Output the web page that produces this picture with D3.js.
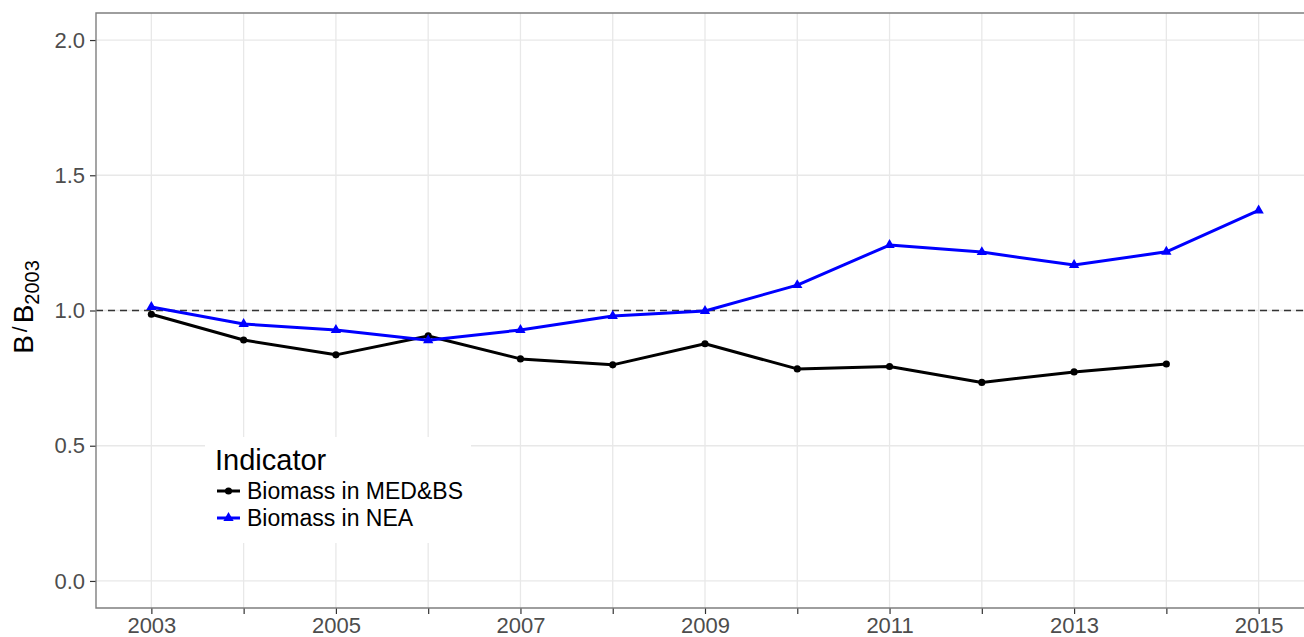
<!DOCTYPE html>
<html>
<head>
<meta charset="utf-8">
<script src="https://cdn.jsdelivr.net/npm/d3@7"></script>
<style>
  html, body { margin: 0; padding: 0; background: #fff; }
  svg { display: block; font-family: "Liberation Sans", Arial, sans-serif; }
</style>
</head>
<body>
<svg id="chart" width="1304" height="637"></svg>
<script>
// biomass ratio B/B2003 for two regions
var years = [2003, 2004, 2005, 2006, 2007, 2008, 2009, 2010, 2011, 2012, 2013, 2014, 2015];
var medbs = [0.986, 0.891, 0.836, 0.906, 0.821, 0.799, 0.877, 0.784, 0.793, 0.734, 0.773, 0.802, null];
var nea = [1.013, 0.950, 0.928, 0.890, 0.928, 0.980, 0.998, 1.094, 1.242, 1.216, 1.168, 1.217, 1.370];
var yTicks = [0, 0.5, 1, 1.5, 2];
var xLabels = [2003, 2005, 2007, 2009, 2011, 2013, 2015];
var seriesNames = ["Biomass in MED&BS", "Biomass in NEA"];

var svg = d3.select("#chart");
// ojo: "top" es window.top, por eso panelTop
var panelLeft = 96, panelTop = 13, panelBottom = 608, panelRight = 1314;
var x = d3.scaleLinear().domain([2002.4, 2015.6]).range([panelLeft, panelRight]);
var y = d3.scaleLinear().domain([-0.1, 2.1]).range([panelBottom, panelTop]);

// grid
var grid = svg.append("g");
grid.selectAll(".gx").data(years).enter().append("line")
  .attr("x1", function (d) { return x(d); }).attr("x2", function (d) { return x(d); })
  .attr("y1", panelTop).attr("y2", panelBottom)
  .attr("stroke", "#e8e8e8").attr("stroke-width", 1.3);
grid.selectAll(".gy").data(yTicks).enter().append("line")
  .attr("x1", panelLeft).attr("x2", panelRight)
  .attr("y1", function (d) { return y(d); }).attr("y2", function (d) { return y(d); })
  .attr("stroke", "#e8e8e8").attr("stroke-width", 1.3);

// reference line at 1
svg.append("line")
  .attr("x1", panelLeft).attr("x2", panelRight).attr("y1", y(1)).attr("y2", y(1))
  .attr("stroke", "#333").attr("stroke-width", 1.7).attr("stroke-dasharray", "7,5");

// axes
var yAxis = d3.axisLeft(y).tickValues(yTicks).tickFormat(d3.format(".1f")).tickSize(6).tickPadding(5);
var gy = svg.append("g").attr("transform", "translate(" + panelLeft + ",0)").call(yAxis);
var xAxis = d3.axisBottom(x).tickValues(years).tickSize(6).tickPadding(3)
  .tickFormat(function (d) { return xLabels.indexOf(d) >= 0 ? d : ""; });
var gx = svg.append("g").attr("transform", "translate(0," + panelBottom + ")").call(xAxis);
[gx, gy].forEach(function (g) {
  g.attr("font-size", null).attr("font-family", null);
  g.select(".domain").remove();
  g.selectAll(".tick line").attr("stroke", "#333").attr("stroke-width", 1.2);
  g.selectAll(".tick text").attr("fill", "#4d4d4d").style("font-size", "22px");
});

// panel border (left, top, bottom)
svg.append("path")
  .attr("d", "M" + panelRight + "," + panelTop + "H" + panelLeft + "V" + panelBottom + "H" + panelRight)
  .attr("fill", "none").attr("stroke", "#7f7f7f").attr("stroke-width", 1.4);

// lines and markers
var line = d3.line()
  .defined(function (d) { return d[1] != null; })
  .x(function (d) { return x(d[0]); })
  .y(function (d) { return y(d[1]); });
var series = [
  { vals: medbs, color: "#000", shape: d3.symbolCircle, size: 40 },
  { vals: nea, color: "#0000ff", shape: d3.symbolTriangle, size: 46 }
];
series.forEach(function (s) {
  var pts = years.map(function (yr, i) { return [yr, s.vals[i]]; });
  svg.append("path").datum(pts).attr("d", line)
    .attr("fill", "none").attr("stroke", s.color).attr("stroke-width", 3)
    .attr("stroke-linejoin", "round");
  svg.append("g").selectAll("path")
    .data(pts.filter(function (d) { return d[1] != null; }))
    .enter().append("path")
    .attr("d", d3.symbol().type(s.shape).size(s.size))
    .attr("transform", function (d) { return "translate(" + x(d[0]) + "," + y(d[1]) + ")"; })
    .attr("fill", s.color);
});

// legend
var lg = svg.append("g").attr("transform", "translate(205,437)");
lg.append("rect").attr("width", 266).attr("height", 106).attr("fill", "#fff");
lg.append("text").attr("x", 10).attr("y", 33).text("Indicator")
  .style("font-size", "29px").attr("fill", "#000");
seriesNames.forEach(function (n, i) {
  var yy = 54 + i * 27;
  var s = series[i];
  lg.append("line").attr("x1", 12).attr("x2", 35).attr("y1", yy).attr("y2", yy)
    .attr("stroke", s.color).attr("stroke-width", 3);
  lg.append("path").attr("d", d3.symbol().type(s.shape).size(s.size))
    .attr("transform", "translate(23.5," + yy + ")").attr("fill", s.color);
  lg.append("text").attr("x", 42).attr("y", yy + 8).text(n)
    .style("font-size", "23px").attr("fill", "#000");
});

// y label B/B2003
var yl = svg.append("text")
  .attr("transform", "translate(33,307) rotate(-90)")
  .attr("text-anchor", "middle").attr("fill", "#000").style("font-size", "28px");
yl.append("tspan").text("B");
yl.append("tspan").attr("dy", -6).attr("dx", 3).style("font-size", "21px").text("/");
yl.append("tspan").attr("dy", 6).attr("dx", 3).text("B");
yl.append("tspan").attr("dy", 6).style("font-size", "20px").text("2003");
</script>
</body>
</html>
